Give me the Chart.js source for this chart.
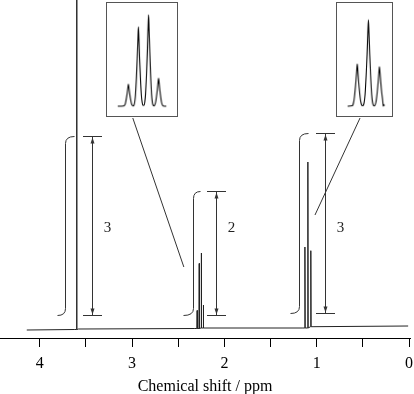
<!DOCTYPE html>
<html lang="en">
<head>
<meta charset="UTF-8" />
<title>1H NMR spectrum</title>
<script src="https://cdn.jsdelivr.net/npm/chart.js"></script>
<style>
  body { margin: 0; background: #fff; }
  .wrap { position: relative; width: 414px; height: 394px; }
  #nmr { display: block; }
  .inset { position: absolute; border: 1px solid #555; background: #fff; }
</style>
</head>
<body>
<div class="wrap">
  <canvas id="nmr" width="414" height="394"></canvas>
  <canvas id="inset1" class="inset" width="72" height="115" style="left:106px;top:2px"></canvas>
  <canvas id="inset2" class="inset" width="57" height="115" style="left:336px;top:2px"></canvas>
</div>
<script>
// spectrum (ppm, intensity above baseline)
const baselinePpm = [4.14, 3.62, 3.58, 2.32, 2.2, 1.15, 1.04, 0.01];
const baselineVal = [-2, -1.5, -1, -0.5, 0, 0, 1.3, 2];
const singletPpm = [3.6];
const singletVal = [700];
const quartetPpm = [2.295, 2.2727, 2.2503, 2.228];
const quartetVal = [18, 65, 75, 23];
const tripletPpm = [1.128, 1.096, 1.064];
const tripletVal = [81, 166, 76];

// integrals: bracket shape, arrow position and label
const integralLabels = ["3", "2", "3"];
const bracketLeft = [3.815, 2.447, 1.29];
const bracketMid = [3.728, 2.345, 1.192];
const bracketRight = [3.631, 2.266, 1.092];
const integralLow = [13, 13, 15];
const integralHigh = [192, 136.5, 195];
const arrowPpm = [3.439, 2.092, 0.911];
const labelVal = 100;

// lines from the insets to their multiplets
const connectFrom = [[2.992, 210], [0.531, 210]];
const connectTo = [[2.439, 61], [1.019, 113]];

// peak profile for the expanded insets (offset in units of the J spacing)
const shapeOffset = [-0.45, -0.38, -0.3, -0.2, -0.12, -0.05, 0, 0.05, 0.12, 0.2, 0.3, 0.38, 0.45];
const shapeLevel = [0.01, 0.04, 0.13, 0.36, 0.6, 0.85, 1, 0.85, 0.6, 0.36, 0.13, 0.04, 0.01];

const xTickStep = 0.5;

function baseAt(ppm) {
  let best = 0;
  for (let i = 0; i < baselinePpm.length; i++) {
    if (Math.abs(baselinePpm[i] - ppm) < Math.abs(baselinePpm[best] - ppm)) best = i;
  }
  return baselineVal[best];
}

function mainPoints() {
  const pts = baselinePpm.map((p, i) => ({ x: p, y: baselineVal[i] }));
  const foot = 0.003;
  const add = (ppms, vals) => ppms.forEach((p, i) => {
    const b = baseAt(p);
    pts.push({ x: p + foot, y: b }, { x: p, y: b + vals[i] }, { x: p - foot, y: b });
  });
  add(singletPpm, singletVal);
  add(quartetPpm, quartetVal);
  add(tripletPpm, tripletVal);
  return pts.sort((a, b) => b.x - a.x);
}

function insetPoints(ppms, vals, from, to) {
  const j = Math.abs(ppms[1] - ppms[0]);
  const pts = [{ x: from, y: 0 }, { x: to, y: 0 }];
  ppms.forEach((p, i) => {
    shapeOffset.forEach((o, k) => pts.push({ x: p - o * j, y: vals[i] * shapeLevel[k] }));
  });
  return pts.sort((a, b) => b.x - a.x);
}

const annotate = {
  id: "annotate",
  afterDatasetsDraw(chart) {
    const { ctx, scales: { x, y } } = chart;
    const px = v => Math.round(x.getPixelForValue(v)) + 0.5;
    const py = v => Math.round(y.getPixelForValue(v)) + 0.5;
    ctx.save();
    ctx.strokeStyle = "#333";
    ctx.fillStyle = "#333";
    ctx.lineWidth = 1;
    for (let i = 0; i < integralLabels.length; i++) {
      const xl = px(bracketLeft[i]), xm = px(bracketMid[i]), xr = px(bracketRight[i]);
      const yb = py(integralLow[i]), yt = py(integralHigh[i]);
      const r = 7;
      ctx.beginPath();
      ctx.moveTo(xl, yb);
      ctx.quadraticCurveTo(xm, yb, xm, yb - r);
      ctx.lineTo(xm, yt + r);
      ctx.quadraticCurveTo(xm, yt, xr, yt);
      ctx.stroke();

      const ax = px(arrowPpm[i]);
      ctx.beginPath();
      ctx.moveTo(ax, yt); ctx.lineTo(ax, yb);
      ctx.moveTo(ax - 9.5, yt); ctx.lineTo(ax + 9.5, yt);
      ctx.moveTo(ax - 9.5, yb); ctx.lineTo(ax + 9.5, yb);
      ctx.stroke();
      ctx.beginPath();
      ctx.moveTo(ax, yt + 1); ctx.lineTo(ax - 2, yt + 7); ctx.lineTo(ax + 2, yt + 7); ctx.closePath();
      ctx.moveTo(ax, yb - 1); ctx.lineTo(ax - 2, yb - 7); ctx.lineTo(ax + 2, yb - 7); ctx.closePath();
      ctx.fill();

      ctx.font = '15px "Liberation Serif", serif';
      ctx.textAlign = "center";
      ctx.textBaseline = "middle";
      ctx.fillStyle = "#222";
      ctx.fillText(integralLabels[i], ax + 15, y.getPixelForValue(labelVal));
      ctx.fillStyle = "#333";
    }
    ctx.beginPath();
    connectFrom.forEach((f, i) => {
      ctx.moveTo(x.getPixelForValue(f[0]), y.getPixelForValue(f[1]));
      ctx.lineTo(x.getPixelForValue(connectTo[i][0]), y.getPixelForValue(connectTo[i][1]));
    });
    ctx.stroke();
    ctx.restore();
  }
};

const serif = "'Liberation Serif', 'Times New Roman', serif";

new Chart(document.getElementById("nmr"), {
  type: "line",
  data: {
    datasets: [{
      data: mainPoints(),
      borderColor: "#222",
      borderWidth: 1,
      pointRadius: 0,
      tension: 0
    }]
  },
  options: {
    responsive: false,
    animation: false,
    devicePixelRatio: 1,
    layout: { padding: { left: 0, right: 4, top: 0, bottom: 0 } },
    plugins: { legend: { display: false }, tooltip: { enabled: false } },
    scales: {
      x: {
        type: "linear",
        reverse: true,
        min: -0.01,
        max: 4.43,
        afterFit: scale => {
          scale.height = 56;
          scale.paddingLeft = 0;
          scale.paddingRight = 0;
        },
        border: { display: true, color: "#000", width: 1 },
        grid: { drawOnChartArea: false, drawTicks: true, tickLength: 9, color: "#000" },
        ticks: {
          stepSize: xTickStep,
          includeBounds: false,
          autoSkip: false,
          maxRotation: 0,
          padding: 7,
          color: "#000",
          font: { family: serif, size: 16 },
          callback: v => Number.isInteger(v) ? String(v) : ""
        },
        title: {
          display: true,
          text: "Chemical shift / ppm",
          color: "#000",
          font: { family: serif, size: 16, lineHeight: 1 },
          padding: { top: 0, bottom: -1 }
        }
      },
      y: { display: false, min: -10, max: 328 }
    }
  },
  plugins: [annotate]
});

function inset(id, points, xMin, xMax, yMin, yMax) {
  new Chart(document.getElementById(id), {
    type: "line",
    data: {
      datasets: [{
        data: points,
        borderColor: "#000",
        borderWidth: 1.1,
        pointRadius: 0,
        cubicInterpolationMode: "monotone"
      }]
    },
    options: {
      responsive: false,
      animation: false,
      devicePixelRatio: 1,
      layout: { padding: 0 },
      plugins: { legend: { display: false }, tooltip: { enabled: false } },
      scales: {
        x: { type: "linear", reverse: true, min: xMin, max: xMax, display: false },
        y: { min: yMin, max: yMax, display: false }
      }
    }
  });
}

inset("inset1", insetPoints(quartetPpm, quartetVal, 2.3187, 2.2107), 2.187, 2.3425, -8.1, 84.7);
inset("inset2", insetPoints(tripletPpm, tripletVal, 1.156, 1.053), 1.0277, 1.1865, -18.9, 198);
</script>
</body>
</html>
